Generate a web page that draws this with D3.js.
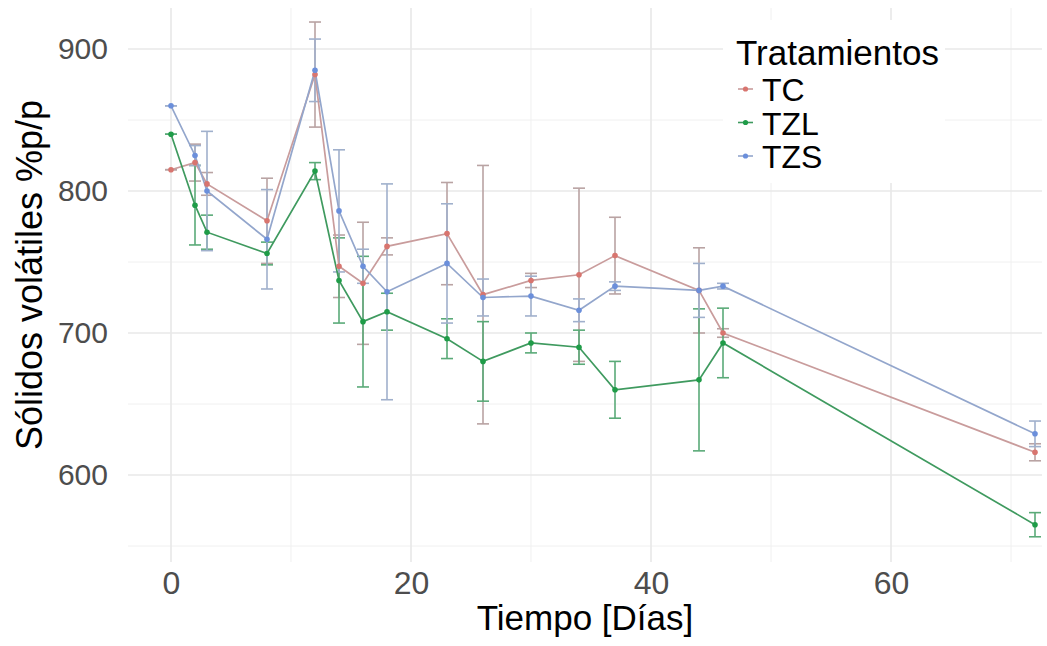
<!DOCTYPE html>
<html>
<head>
<meta charset="utf-8">
<script src="https://cdn.jsdelivr.net/npm/d3@7/dist/d3.min.js"></script>
<style>
  html, body { margin: 0; padding: 0; background: #fff; }
  svg { display: block; font-family: "Liberation Sans", Arial, sans-serif; }
</style>
</head>
<body>
<svg id="chart" width="1047" height="646"></svg>
<script>
// ---- Data ----
const days = [0, 2, 3, 8, 12, 14, 16, 18, 23, 26, 30, 34, 37, 44, 46, 72];
const seriesNames = ["TC", "TZL", "TZS"];
const tcValues  = [815, 820, 805, 779, 882, 747, 735, 761, 770, 727, 737, 741, 754.5, 730, 700, 616];
const tcErrors  = [0, 13, 8, 30, 37, 22, 43, 6, 36, 91, 5, 61, 27, 30, 3, 6];
const tzlValues = [840, 790, 771, 756, 814, 737, 708, 715, 696, 680, 693, 690, 660, 667, 693, 565];
const tzlErrors = [0, 28, 12, 8, 6, 30, 46, 13, 14, 28, 7, 12, 20, 50, 24.5, 8.5];
const tzsValues = [860, 825, 800, 766, 885, 786, 747, 729, 749, 725, 726, 716, 733, 730, 733, 629];
const tzsErrors = [0, 7, 42, 35, 22, 43, 12, 76, 42, 13, 14, 8, 3, 19, 2, 9];
const xTicks = [0, 20, 40, 60];
const xMinor = [10, 30, 50, 70];
const yTicks = [600, 700, 800, 900];
const yMinor = [550, 650, 750, 850];
const xTitle = "Tiempo [Días]";
const yTitle = "Sólidos volátiles %p/p";
const legendTitle = "Tratamientos";

// ---- Styles ----
const lineColors  = { TC: "#c99c9c", TZL: "#3f9a5f", TZS: "#93a6cc" };
const pointColors = { TC: "#d8756f", TZL: "#1f9c48", TZS: "#6b8fdb" };
const barColors   = { TC: "#b9a3a3", TZL: "#5aaa78", TZS: "#a0b0cc" };

const series = [
  { name: "TC",  values: tcValues,  errors: tcErrors },
  { name: "TZL", values: tzlValues, errors: tzlErrors },
  { name: "TZS", values: tzsValues, errors: tzsErrors }
].map(s => ({
  name: s.name,
  points: days.map((d, i) => ({ day: d, value: s.values[i], err: s.errors[i] }))
}));

const svg = d3.select("#chart");
const panel = { left: 128, right: 1042, top: 8, bottom: 562 };

// x: 12 px per day, day 0 at 171
const x = d3.scaleLinear().domain([-3.5833, 72.5833]).range([panel.left, panel.right]);
// y: 1.42 px per unit, 900 at y=49
const y = d3.scaleLinear()
  .domain([900 - (panel.bottom - 49) / 1.42, 900 + (49 - panel.top) / 1.42])
  .range([panel.bottom, panel.top]);

const grid = svg.append("g");
// minor grid
grid.selectAll(".vminor").data(xMinor).join("line")
  .attr("x1", d => x(d)).attr("x2", d => x(d))
  .attr("y1", panel.top).attr("y2", panel.bottom)
  .attr("stroke", "#f0f0f0").attr("stroke-width", 1);
grid.selectAll(".hminor").data(yMinor).join("line")
  .attr("y1", d => y(d)).attr("y2", d => y(d))
  .attr("x1", panel.left).attr("x2", panel.right)
  .attr("stroke", "#f0f0f0").attr("stroke-width", 1);
// major grid
grid.selectAll(".vmajor").data(xTicks).join("line")
  .attr("x1", d => x(d)).attr("x2", d => x(d))
  .attr("y1", panel.top).attr("y2", panel.bottom)
  .attr("stroke", "#e8e8e8").attr("stroke-width", 1.6);
grid.selectAll(".hmajor").data(yTicks).join("line")
  .attr("y1", d => y(d)).attr("y2", d => y(d))
  .attr("x1", panel.left).attr("x2", panel.right)
  .attr("stroke", "#e8e8e8").attr("stroke-width", 1.6);

// axes (text only, theme_minimal style)
const xAxis = svg.append("g")
  .attr("transform", `translate(0,${panel.bottom})`)
  .call(d3.axisBottom(x).tickValues(xTicks).tickSize(0).tickPadding(9).tickFormat(d3.format("d")));
xAxis.select(".domain").remove();
xAxis.selectAll("text").attr("font-size", 32).attr("fill", "#4d4d4d")
  .attr("font-family", "Liberation Sans, Arial, sans-serif");

const yAxis = svg.append("g")
  .attr("transform", `translate(${panel.left},0)`)
  .call(d3.axisLeft(y).tickValues(yTicks).tickSize(0).tickPadding(20).tickFormat(d3.format("d")));
yAxis.select(".domain").remove();
yAxis.selectAll("text").attr("font-size", 30).attr("fill", "#4d4d4d")
  .attr("font-family", "Liberation Sans, Arial, sans-serif");

// error bars
const capHalf = 6;
const eb = svg.append("g");
series.forEach(s => {
  const g = eb.append("g").attr("stroke", barColors[s.name]).attr("stroke-width", 1.6).attr("fill", "none");
  g.selectAll(".v").data(s.points).join("line")
    .attr("x1", d => x(d.day)).attr("x2", d => x(d.day))
    .attr("y1", d => y(d.value + d.err)).attr("y2", d => y(d.value - d.err));
  g.selectAll(".t").data(s.points).join("line")
    .attr("x1", d => x(d.day) - capHalf).attr("x2", d => x(d.day) + capHalf)
    .attr("y1", d => y(d.value + d.err)).attr("y2", d => y(d.value + d.err));
  g.selectAll(".b").data(s.points).join("line")
    .attr("x1", d => x(d.day) - capHalf).attr("x2", d => x(d.day) + capHalf)
    .attr("y1", d => y(d.value - d.err)).attr("y2", d => y(d.value - d.err));
});

// lines
const line = d3.line().x(d => x(d.day)).y(d => y(d.value));
series.forEach(s => {
  svg.append("path").datum(s.points)
    .attr("d", line).attr("fill", "none")
    .attr("stroke", lineColors[s.name]).attr("stroke-width", 1.7);
});

// points
series.forEach(s => {
  svg.append("g").selectAll("circle").data(s.points).join("circle")
    .attr("cx", d => x(d.day)).attr("cy", d => y(d.value)).attr("r", 2.8)
    .attr("fill", pointColors[s.name]);
});

// axis titles
svg.append("text").attr("x", 585).attr("y", 630).attr("text-anchor", "middle")
  .attr("font-size", 35).attr("fill", "#000").text(xTitle);
svg.append("text").attr("transform", `translate(42,275) rotate(-90)`)
  .attr("text-anchor", "middle").attr("font-size", 36).attr("fill", "#000").text(yTitle);

// legend
const lg = svg.append("g");
lg.append("rect").attr("x", 723).attr("y", 20).attr("width", 222).attr("height", 163).attr("fill", "#fff");
lg.append("text").attr("x", 736).attr("y", 65).attr("font-size", 35).attr("fill", "#000").text(legendTitle);
const keyY = d3.scalePoint().domain(seriesNames).range([89, 156]);
seriesNames.forEach(n => {
  const yy = keyY(n);
  lg.append("line").attr("x1", 738).attr("x2", 753).attr("y1", yy).attr("y2", yy)
    .attr("stroke", lineColors[n]).attr("stroke-width", 1.6);
  lg.append("circle").attr("cx", 745.5).attr("cy", yy).attr("r", 2.6).attr("fill", pointColors[n]);
  lg.append("text").attr("x", 762).attr("y", yy + 12).attr("font-size", 32).attr("fill", "#000").text(n);
});
</script>
</body>
</html>
